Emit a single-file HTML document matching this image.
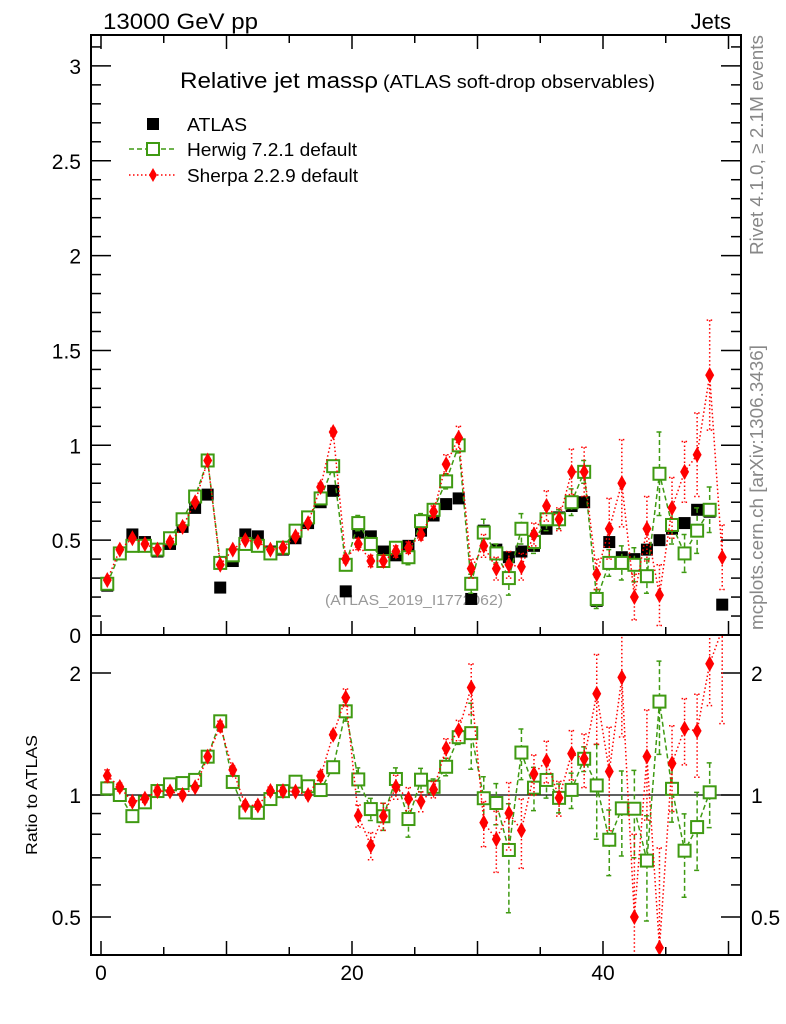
<!DOCTYPE html>
<html><head><meta charset="utf-8"><style>
html,body{margin:0;background:#fff;overflow:hidden;width:786px;height:1024px;}
svg{display:block;font-family:"Liberation Sans",sans-serif;}
</style></head><body>
<svg id="c" width="786" height="1024">
<defs>
<clipPath id="cm"><rect x="91" y="35" width="650" height="600"/></clipPath>
<clipPath id="cr"><rect x="91" y="635" width="650" height="320"/></clipPath>
</defs>
<text x="103" y="29" font-size="22" textLength="155" lengthAdjust="spacingAndGlyphs">13000 GeV pp</text>
<text x="731" y="29" font-size="22" text-anchor="end">Jets</text>
<text x="180" y="88" font-size="22"><tspan textLength="198" lengthAdjust="spacingAndGlyphs">Relative jet massρ</tspan><tspan x="383" font-size="18" textLength="272" lengthAdjust="spacingAndGlyphs">(ATLAS soft-drop observables)</tspan></text>
<text transform="translate(763,255) rotate(-90)" font-size="18" fill="#888" textLength="220" lengthAdjust="spacingAndGlyphs">Rivet 4.1.0, ≥ 2.1M events</text>
<text transform="translate(763,630) rotate(-90)" font-size="18" fill="#888" textLength="285" lengthAdjust="spacingAndGlyphs">mcplots.cern.ch [arXiv:1306.3436]</text>
<text x="414" y="605" font-size="15" fill="#999" text-anchor="middle" textLength="178" lengthAdjust="spacingAndGlyphs">(ATLAS_2019_I1772062)</text>
<text transform="translate(37,795) rotate(-90)" font-size="16" text-anchor="middle" textLength="120" lengthAdjust="spacingAndGlyphs">Ratio to ATLAS</text>
<g id="axes"></g>
<g id="main" clip-path="url(#cm)"></g>
<g id="ratio" clip-path="url(#cr)"></g>
<rect x="91" y="35" width="650" height="920" fill="none" stroke="#000" stroke-width="2"/>
<line x1="91" y1="635" x2="741" y2="635" stroke="#000" stroke-width="2"/>
<g>
<rect x="147" y="118" width="12" height="12" fill="#000"/>
<text x="187" y="131" font-size="18" textLength="60" lengthAdjust="spacingAndGlyphs">ATLAS</text>
<line x1="129" y1="149" x2="177" y2="149" stroke="#3f9a12" stroke-width="1.5" stroke-dasharray="5,3"/>
<rect x="147" y="143" width="12" height="12" fill="#fff" stroke="#3f9a12" stroke-width="2"/>
<text x="187" y="156" font-size="18" textLength="170" lengthAdjust="spacingAndGlyphs">Herwig 7.2.1 default</text>
<line x1="129" y1="175" x2="177" y2="175" stroke="#f00" stroke-width="1.5" stroke-dasharray="1.5,2.5"/>
<path d="M153,168 L157,175 L153,182 L149,175 Z" fill="#f00"/>
<text x="187" y="182" font-size="18" textLength="171" lengthAdjust="spacingAndGlyphs">Sherpa 2.2.9 default</text>
</g>
</svg>
<script>
const atlas=[0.26,0.43,0.53,0.49,0.44,0.48,0.57,0.67,0.74,0.25,0.39,0.53,0.52,0.44,0.45,0.51,0.59,0.70,0.76,0.23,0.54,0.52,0.44,0.42,0.47,0.55,0.63,0.69,0.72,0.19,0.55,0.45,0.41,0.44,0.47,0.56,0.62,0.68,0.70,0.18,0.49,0.41,0.40,0.45,0.50,0.56,0.59,0.66,0.65,0.16];
const herwig=[0.27,0.43,0.47,0.47,0.45,0.51,0.61,0.73,0.92,0.38,0.42,0.48,0.47,0.43,0.46,0.55,0.62,0.72,0.89,0.37,0.59,0.48,0.39,0.46,0.41,0.60,0.66,0.81,1.00,0.27,0.54,0.43,0.30,0.56,0.49,0.61,0.61,0.70,0.86,0.19,0.38,0.38,0.37,0.31,0.85,0.58,0.43,0.55,0.66,null];
const herwigErr=[0.01,0.01,0.01,0.01,0.01,0.01,0.01,0.01,0.01,0.01,0.01,0.01,0.01,0.01,0.01,0.01,0.01,0.01,0.01,0.02,0.04,0.03,0.03,0.03,0.04,0.04,0.03,0.04,0.04,0.05,0.07,0.05,0.09,0.08,0.06,0.06,0.05,0.07,0.06,0.05,0.07,0.09,0.09,0.09,0.22,0.10,0.10,0.12,0.12,0];
const sherpa=[0.29,0.45,0.51,0.48,0.45,0.49,0.57,0.70,0.92,0.37,0.45,0.50,0.49,0.45,0.46,0.52,0.59,0.78,1.07,0.40,0.48,0.39,0.39,0.44,0.46,0.53,0.65,0.90,1.04,0.35,0.47,0.35,0.37,0.36,0.53,0.68,0.61,0.86,0.86,0.32,0.56,0.80,0.20,0.56,0.21,0.67,0.86,0.95,1.37,0.41];
const sherpaErr=[0.01,0.01,0.01,0.01,0.01,0.01,0.01,0.01,0.01,0.01,0.01,0.01,0.01,0.01,0.01,0.01,0.01,0.02,0.02,0.02,0.03,0.03,0.03,0.03,0.03,0.03,0.03,0.05,0.06,0.05,0.06,0.06,0.07,0.07,0.06,0.08,0.06,0.12,0.13,0.08,0.16,0.23,0.12,0.17,0.16,0.16,0.16,0.22,0.29,0.17];
const xTicks=[0,20,40];
const mainTicks=["0","0.5","1","1.5","2","2.5","3"];
const ratioTicks=[0.5,1,2];

const NS="http://www.w3.org/2000/svg";
const X=v=>101+12.55*v;
const Y=v=>635-189.7*v;
const R=r=>795-122*Math.log2(r);
function mk(t,a,p){const e=document.createElementNS(NS,t);for(const k in a)e.setAttribute(k,a[k]);p.appendChild(e);return e;}
const ax=document.getElementById('axes'),gm=document.getElementById('main'),gr=document.getElementById('ratio');
for(let v=0;v<=50;v+=5){const L=v%10===0?14:8;
 for(const yb of [635,955]){const t=mk('line',{x1:X(v),x2:X(v),y1:yb,y2:yb-L,stroke:'#000','stroke-width':1.5},ax);
 }
 const t2=mk('line',{x1:X(v),x2:X(v),y1:35,y2:35+L,stroke:'#000','stroke-width':1.5},ax);
 }
xTicks.forEach(v=>{const t=mk('text',{x:X(v),y:980,'font-size':21,'text-anchor':'middle'},ax);t.textContent=v;
 });
for(let i=0;i<=31;i++){const v=i/10;const y=Y(v);if(y<35)continue;const L=i%5===0?20:10;
 mk('line',{x1:91,x2:91+L,y1:y,y2:y,stroke:'#000','stroke-width':1.5},ax);
 mk('line',{x1:741,x2:741-L,y1:y,y2:y,stroke:'#000','stroke-width':1.5},ax);}
mainTicks.forEach(s=>{const t=mk('text',{x:81,y:Y(+s)+8,'font-size':21,'text-anchor':'end'},ax);t.textContent=s;
 });
[0.5,0.6,0.7,0.8,0.9,1,2].forEach(v=>{const L=ratioTicks.includes(v)?20:10;const y=R(v);
 mk('line',{x1:91,x2:91+L,y1:y,y2:y,stroke:'#000','stroke-width':1.5},ax);
 mk('line',{x1:741,x2:741-L,y1:y,y2:y,stroke:'#000','stroke-width':1.5},ax);});
ratioTicks.forEach(v=>{for(const [x,a] of [[81,'end'],[751,'start']]){const t=mk('text',{x:x,y:R(v)+8,'font-size':21,'text-anchor':a},ax);t.textContent=v;
 }});
const one=mk('line',{x1:91,x2:741,y1:R(1),y2:R(1),stroke:'#000','stroke-width':1.2},gr);


function series(g,vals,errs,Yf,col,dash,kind,name){
 if(kind!=='a'){
 let d='';vals.forEach((v,i)=>{if(v==null)return;d+=(d?'L':'M')+X(i+0.5)+','+Yf(v);});
 const ln=mk('path',{d:d,fill:'none',stroke:col,'stroke-width':1.5,'stroke-dasharray':dash},g);
 }
 vals.forEach((v,i)=>{if(v==null)return;const x=X(i+0.5),y=Yf(v);
  if(errs){const e=errs[i];const eb=mk('path',{d:`M${x},${Yf(v+e)}L${x},${Yf(Math.max(v-e,0.01))}M${x-3},${Yf(v+e)}h6M${x-3},${Yf(Math.max(v-e,0.01))}h6`,stroke:col,'stroke-width':1.5,'stroke-dasharray':dash,fill:'none'},g);
   }
  let m;
  if(kind==='h')m=mk('rect',{x:x-6,y:y-6,width:12,height:12,fill:'#fff',stroke:col,'stroke-width':2},g);
  else if(kind==='s')m=mk('path',{d:`M${x},${y-8}L${x+4.5},${y}L${x},${y+8}L${x-4.5},${y}Z`,fill:col},g);
  else m=mk('rect',{x:x-6,y:y-6,width:12,height:12,fill:'#000'},g);
  });
}
series(gm,atlas,null,Y,'#000','none','a','atlas');
series(gm,herwig,herwigErr,Y,'#3f9a12','5,3','h','herwig');
series(gm,sherpa,sherpaErr,Y,'#f00','1.5,2.5','s','sherpa');
const hr=herwig.map((v,i)=>v==null?null:v/atlas[i]);
const hre=herwigErr.map((e,i)=>e/atlas[i]);
const sr=sherpa.map((v,i)=>v/atlas[i]);
const sre=sherpaErr.map((e,i)=>e/atlas[i]);
series(gr,hr,hre,R,'#3f9a12','5,3','h','herwig-ratio');
series(gr,sr,sre,R,'#f00','1.5,2.5','s','sherpa-ratio');
</script>
</body></html>
